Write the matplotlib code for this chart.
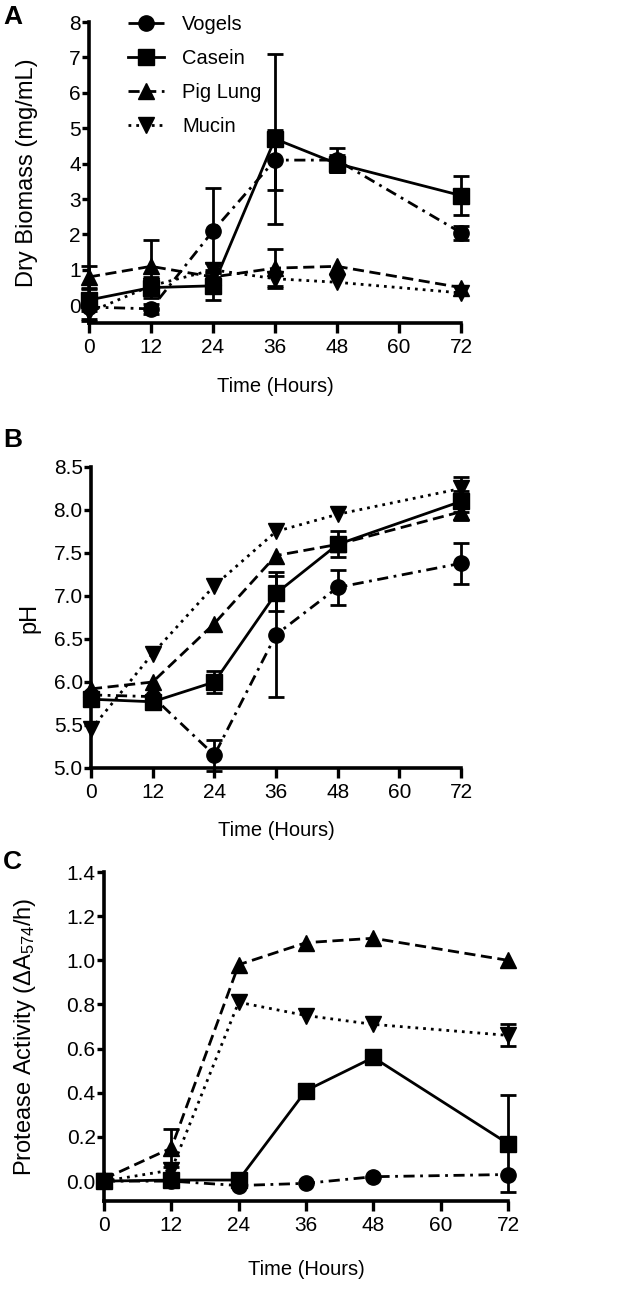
"""Three-panel time course: dry biomass, pH and protease activity."""

import matplotlib
matplotlib.use("Agg")
import matplotlib.pyplot as plt

plt.rcParams["font.family"] = ["Liberation Sans", "DejaVu Sans"]
plt.rcParams["mathtext.fontset"] = "custom"
plt.rcParams["mathtext.rm"] = "Liberation Sans"
plt.rcParams["mathtext.it"] = "Liberation Sans"

hours = [0, 12, 24, 36, 48, 72]
series = ["Vogels", "Casein", "Pig Lung", "Mucin"]

# Panel A: dry biomass (mg/mL)
biomass_vogels = [-0.05, -0.1, 2.1, 4.1, 4.1, 2.05]
biomass_vogels_err = [0.35, 0.15, 1.2, 0.85, 0.35, 0.2]
biomass_casein = [0.15, 0.5, 0.55, 4.7, 4.0, 3.1]
biomass_casein_err = [0.3, 0.3, 0.4, 2.4, 0.25, 0.55]
biomass_pig = [0.8, 1.1, 0.8, 1.05, 1.1, 0.5]
biomass_pig_err = [0.3, 0.75, 0.2, 0.55, 0.0, 0.0]
biomass_mucin = [-0.2, 0.55, 1.0, 0.75, 0.65, 0.35]
biomass_mucin_err = [0.25, 0.2, 0.2, 0.2, 0.0, 0.0]

# Panel B: pH
ph_vogels = [5.85, 5.83, 5.15, 6.55, 7.1, 7.38]
ph_vogels_err = [0.0, 0.0, 0.18, 0.73, 0.2, 0.24]
ph_casein = [5.8, 5.77, 6.0, 7.03, 7.6, 8.1]
ph_casein_err = [0.0, 0.0, 0.13, 0.2, 0.15, 0.12]
ph_pig = [5.92, 6.0, 6.68, 7.47, 7.6, 7.98]
ph_pig_err = [0.0, 0.0, 0.0, 0.0, 0.0, 0.1]
ph_mucin = [5.45, 6.33, 7.12, 7.75, 7.95, 8.25]
ph_mucin_err = [0.0, 0.0, 0.0, 0.0, 0.0, 0.13]

# Panel C: protease activity (dA574/h)
prot_vogels = [0.0, 0.0, -0.02, -0.01, 0.02, 0.03]
prot_vogels_err = [0.0, 0.0, 0.0, 0.0, 0.0, 0.0]
prot_casein = [0.0, 0.005, 0.005, 0.41, 0.56, 0.17]
prot_casein_err = [0.0, 0.0, 0.0, 0.0, 0.0, 0.22]
prot_pig = [0.01, 0.15, 0.98, 1.08, 1.1, 1.0]
prot_pig_err = [0.0, 0.085, 0.0, 0.0, 0.0, 0.0]
prot_mucin = [0.0, 0.05, 0.81, 0.75, 0.71, 0.66]
prot_mucin_err = [0.0, 0.0, 0.0, 0.0, 0.0, 0.05]

# marker and dash pattern per series
STYLES = {
    "Vogels": dict(marker="o", dashes=(4, 2, 1, 2)),
    "Casein": dict(marker="s", dashes=()),
    "Pig Lung": dict(marker="^", dashes=(4, 2)),
    "Mucin": dict(marker="v", dashes=(1, 1.8)),
}

FIG_W, FIG_H = 641, 1291
fig = plt.figure(figsize=(FIG_W / 100, FIG_H / 100), dpi=100)


def add_axes_px(left, top, right, bottom):
    return fig.add_axes([left / FIG_W, 1 - bottom / FIG_H,
                         (right - left) / FIG_W, (bottom - top) / FIG_H])


def draw_panel(ax, data, ylim, yticks, yticklabels, ylabel, ylabel_x, xlabel_y):
    for name, (vals, errs) in zip(series, data):
        st = STYLES[name]
        line, = ax.plot(hours, vals, color="black", lw=2.0, marker=st["marker"],
                        ms=11, clip_on=False, label=name, zorder=3)
        if st["dashes"]:
            line.set_dashes(st["dashes"])
        # only points whose error bar sticks out past the marker
        idx = [i for i, e in enumerate(errs) if e > 0]
        if idx:
            ax.errorbar([hours[i] for i in idx], [vals[i] for i in idx],
                        yerr=[errs[i] for i in idx], fmt="none", ecolor="black",
                        elinewidth=2.0, capsize=6, capthick=2.0, clip_on=False,
                        zorder=2)
    ax.set_xlim(0, 72)
    ax.set_ylim(*ylim)
    ax.set_xticks([0, 12, 24, 36, 48, 60, 72])
    ax.set_yticks(yticks)
    ax.set_yticklabels(yticklabels)
    for s in ("top", "right"):
        ax.spines[s].set_visible(False)
    for s in ("left", "bottom"):
        ax.spines[s].set_linewidth(2.6)
    ax.tick_params(width=2.4, length=5, labelsize=15, pad=1)
    ax.tick_params(axis="x", length=7, pad=4)
    ax.set_xlabel("Time (Hours)", fontsize=14.5)
    ax.set_ylabel(ylabel, fontsize=17)
    ax.yaxis.set_label_coords(ylabel_x, 0.5)
    ax.xaxis.set_label_coords(0.5, xlabel_y)
    ax.xaxis.label.set_va("top")


ax_a = add_axes_px(89, 22, 461, 323)
draw_panel(ax_a,
           [(biomass_vogels, biomass_vogels_err), (biomass_casein, biomass_casein_err),
            (biomass_pig, biomass_pig_err), (biomass_mucin, biomass_mucin_err)],
           (-0.5, 8), range(0, 9), [str(v) for v in range(0, 9)],
           "Dry Biomass (mg/mL)", -0.137, -0.18)
ax_a.legend(loc="upper left", bbox_to_anchor=(0.083, 1.05), frameon=False,
            fontsize=14.5, handlelength=1.8, handletextpad=0.9, labelspacing=0.74,
            borderaxespad=0)

ax_b = add_axes_px(91, 467, 461, 768)
b_ticks = [5.0, 5.5, 6.0, 6.5, 7.0, 7.5, 8.0, 8.5]
draw_panel(ax_b,
           [(ph_vogels, ph_vogels_err), (ph_casein, ph_casein_err),
            (ph_pig, ph_pig_err), (ph_mucin, ph_mucin_err)],
           (5.0, 8.5), b_ticks, [f"{v:.1f}" for v in b_ticks],
           "pH", -0.138, -0.175)

ax_c = add_axes_px(104, 872, 508, 1201)
c_ticks = [0.0, 0.2, 0.4, 0.6, 0.8, 1.0, 1.2, 1.4]
draw_panel(ax_c,
           [(prot_vogels, prot_vogels_err), (prot_casein, prot_casein_err),
            (prot_pig, prot_pig_err), (prot_mucin, prot_mucin_err)],
           (-0.09, 1.4), c_ticks, [f"{v:.1f}" for v in c_ticks],
           "Protease Activity (ΔA$_{574}$/h)", -0.163, -0.18)

for label, y_px in (("A", 17), ("B", 440), ("C", 862)):
    fig.text(3 / FIG_W, 1 - y_px / FIG_H, label, fontsize=19, fontweight="bold",
             va="center", ha="left")

fig.savefig("out.png", dpi=100)
